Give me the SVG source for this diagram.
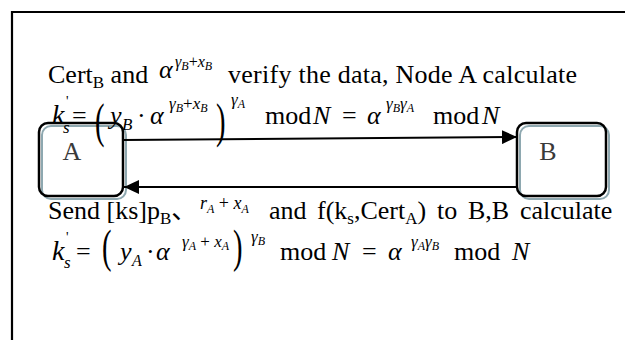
<svg xmlns="http://www.w3.org/2000/svg" width="625" height="340" viewBox="0 0 625 340">
<defs>
<style>
.t{font-family:"Liberation Serif","Times New Roman","Noto Sans CJK SC",serif;font-size:26px;fill:#000}
.i{font-style:italic}
.n{font-style:normal}
.s17{font-size:17px}
.s12{font-size:12px}
.lbl{font-family:"Liberation Serif","Times New Roman",serif;font-size:26px;fill:#3a3a3a;text-anchor:middle}
.box{fill:none;stroke:#000;stroke-width:2.5}
.shadow{fill:none;stroke:#8ea8b0;stroke-width:2}
.conn{stroke:#000;stroke-width:2;fill:none}
.frame{stroke:#000;stroke-width:2.2;fill:none}
</style>
<marker id="ah" markerWidth="16" markerHeight="14" refX="15" refY="7" orient="auto" markerUnits="userSpaceOnUse">
<path d="M0,0 L15,7 L0,14 Z" fill="#000"/>
</marker>
</defs>
<rect width="625" height="340" fill="#fff"/>
<path class="frame" d="M12,341 V12 H626"/>

<g id="node-A">
<rect class="shadow" x="42" y="126" width="84" height="73" rx="9"/>
<rect class="box" x="39" y="123" width="84" height="73" rx="9"/>
<text class="lbl" x="72" y="160">A</text>
</g>
<g id="node-B">
<rect class="shadow" x="520" y="126" width="89" height="73" rx="9"/>
<rect class="box" x="517" y="123" width="89" height="73" rx="9"/>
<text class="lbl" x="548" y="160">B</text>
</g>

<g id="connectors">
<path class="conn" d="M123,140 L517,137" marker-end="url(#ah)"/>
<path class="conn" d="M517,187 L124,187" marker-end="url(#ah)"/>
</g>

<g id="text-line1">
<text class="t" x="48" y="83">Cert<tspan class="s17" dy="5">B</tspan><tspan dy="-5"> and</tspan></text>
<text class="t i" x="159" y="78" font-size="24">α</text>
<text class="t i" x="175" y="67" style="font-size:16px">γ<tspan class="s12" dy="3">B</tspan><tspan class="n" dy="-3">+</tspan>x<tspan class="s12" dy="3">B</tspan></text>
<text class="t" x="228" y="83" textLength="349">verify the data, Node A calculate</text>
</g>

<g id="text-line2">
<text class="t i" x="52" y="124" style="font-size:28px">k</text>
<text class="t" x="66" y="106" style="font-size:14px">'</text>
<text class="t i s17" x="63" y="133">s</text>
<text class="t" x="72" y="124">=</text>
<text class="t" transform="translate(95,137) scale(1.1,1.85)">(</text>
<text class="t i" x="110" y="124">y</text>
<text class="t i s17" x="122" y="130">B</text>
<text class="t" x="137" y="124">·</text>
<text class="t i" x="150" y="124">α</text>
<text class="t i s17" x="169" y="109">γ<tspan class="s12" dy="3">B</tspan><tspan class="n" dy="-3">+</tspan>x<tspan class="s12" dy="3">B</tspan></text>
<text class="t" transform="translate(216,137) scale(1.1,1.85)">)</text>
<text class="t i s17" x="231" y="105">γ<tspan class="s12" dy="3">A</tspan></text>
<text class="t" x="265" y="124">mod</text>
<text class="t i" x="313" y="124">N</text>
<text class="t" x="342" y="124">=</text>
<text class="t i" x="367" y="124">α</text>
<text class="t i s17" x="386" y="109">γ<tspan class="s12" dy="3">B</tspan><tspan dy="-3">γ</tspan><tspan class="s12" dy="3">A</tspan></text>
<text class="t" x="433" y="124">mod</text>
<text class="t i" x="482" y="124">N</text>
</g>

<g id="text-line3">
<text class="t" x="48" y="219">Send [ks]p<tspan class="s17" dy="5">B</tspan><tspan dy="-5">、</tspan></text>
<text class="t i" x="200" y="209" style="font-size:18px">r<tspan class="s12" dy="4">A</tspan><tspan class="n" dy="-4"> + </tspan>x<tspan class="s12" dy="4">A</tspan></text>
<text class="t" x="269" y="219">and</text>
<text class="t" x="317" y="219">f(k<tspan class="s17" dy="5">s</tspan><tspan dy="-5">,Cert</tspan><tspan class="s17" dy="5">A</tspan><tspan dy="-5">)</tspan></text>
<text class="t" x="437" y="219">to</text>
<text class="t" x="468" y="219">B,B</text>
<text class="t" x="520" y="219">calculate</text>
</g>

<g id="text-line4">
<text class="t i" x="52" y="260" style="font-size:28px">k</text>
<text class="t" x="66" y="242" style="font-size:14px">'</text>
<text class="t i s17" x="64" y="268">s</text>
<text class="t" x="76" y="260">=</text>
<text class="t" transform="translate(102,262) scale(1.1,1.77)">(</text>
<text class="t i" x="120" y="260">y</text>
<text class="t i" x="132" y="266" style="font-size:16px">A</text>
<text class="t" x="146" y="260">·</text>
<text class="t i" x="156" y="260">α</text>
<text class="t i s17" x="182" y="247">γ<tspan class="s12" dy="3">A</tspan><tspan class="n" dy="-3"> + </tspan>x<tspan class="s12" dy="3">A</tspan></text>
<text class="t" transform="translate(233,262) scale(1.1,1.77)">)</text>
<text class="t i s17" x="251" y="242">γ<tspan class="s12" dy="3">B</tspan></text>
<text class="t" x="280" y="260">mod</text>
<text class="t i" x="332" y="260">N</text>
<text class="t" x="362" y="260">=</text>
<text class="t i" x="388" y="260">α</text>
<text class="t i s17" x="411" y="247">γ<tspan class="s12" dy="3">A</tspan><tspan dy="-3">γ</tspan><tspan class="s12" dy="3">B</tspan></text>
<text class="t" x="454" y="260">mod</text>
<text class="t i" x="512" y="260">N</text>
</g>
</svg>
